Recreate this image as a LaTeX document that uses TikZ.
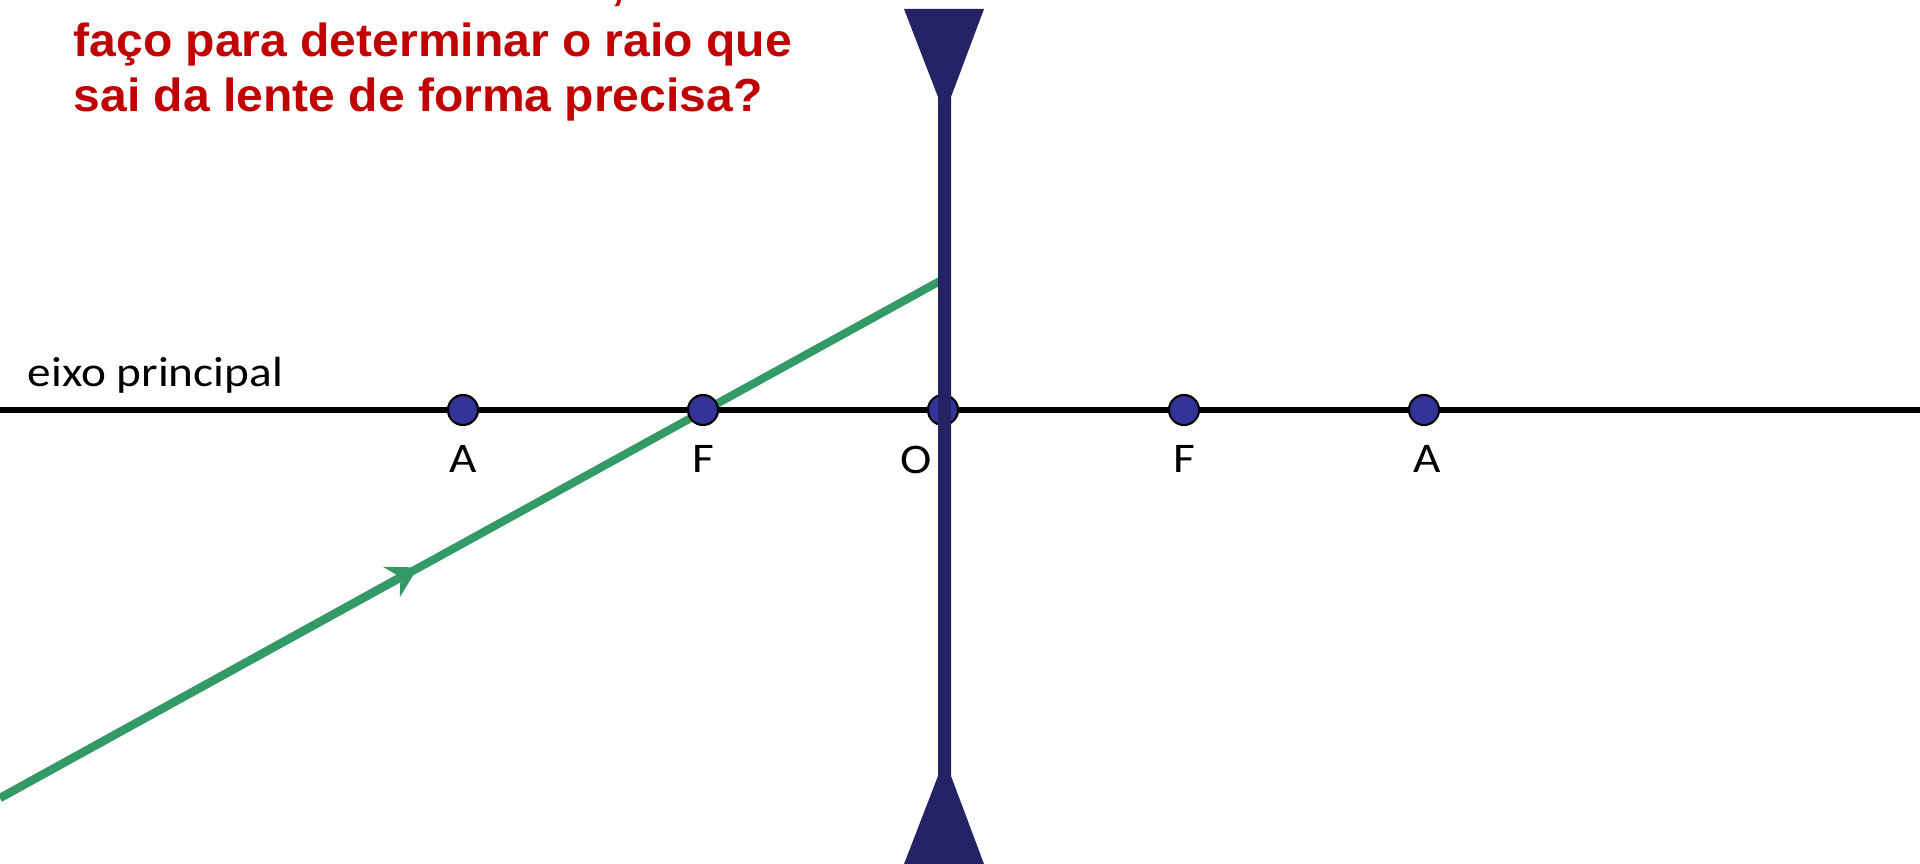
\documentclass[tikz,border=0pt]{standalone}
\usepackage{fontspec}
\setmainfont{Carlito}
\newfontfamily\rotfont[FakeStretch=1.12]{Carlito}
\newfontfamily\arialfont[FakeStretch=1.035]{Liberation Sans}
\usepackage{xcolor}
\usepackage{tikz}
\usetikzlibrary{positioning, arrows.meta}
\definecolor{lLente}{HTML}{232366}
\definecolor{lPonto}{HTML}{333399}
\definecolor{lRaio}{HTML}{339966}
\definecolor{lTexto}{HTML}{C00000}
\tikzset{
  eixo/.style={draw=black, line width=1.6pt},
  raio/.style={draw=lRaio, line width=2.3pt},
  ponto/.style={circle, draw=black, fill=lPonto, line width=0.6pt,
    minimum size=0.3cm, inner sep=0pt},
  rotulo/.style={font=\rotfont\fontsize{12}{14.4}\selectfont, inner sep=0pt},
  pergunta/.style={font=\arialfont\bfseries\fontsize{13.2}{15.65}\selectfont,
    text=lTexto, inner sep=0pt, align=left},
}

\begin{document}
\begin{tikzpicture}[x=0.01cm, y=-0.01cm]
        \clip (0,0) rectangle (1920,864);
        \fill[white] (0,0) rectangle (1920,864);
        % eixo principal
        \coordinate (eixoIni) at (0,410);
        \coordinate (eixoFim) at (1920,410);
        \draw[eixo] (eixoIni) -- (eixoFim);
        \node[rotulo, anchor=base west] (eixoTxt) at (27,387) {eixo principal};
        % raio incidente
        \coordinate (raioIni) at (0,798);
        \coordinate (raioSeta) at (418,567.4);
        \coordinate (raioFim) at (940,281);
        \draw[raio] (raioIni) -- (raioFim);
        \draw[raio, -{Stealth[length=0.3cm, width=0.34cm, inset=0.1cm]}] (raioIni) -- (raioSeta);
        % pontos
        \node[ponto] (pontoA1) at (463,410) {};
        \node[ponto] (pontoF1) at (703,410) {};
        \node[ponto] (pontoO) at (943,410) {};
        \node[ponto] (pontoF2) at (1184,410) {};
        \node[ponto] (pontoA2) at (1424,410) {};
        \node[rotulo, below=0.19cm of pontoA1] (rotA1) {A};
        \node[rotulo, below=0.19cm of pontoF1] (rotF1) {F};
        \node[rotulo, below=0.19cm of pontoO, xshift=-0.27cm] (rotO) {O};
        \node[rotulo, below=0.19cm of pontoF2] (rotF2) {F};
        \node[rotulo, below=0.19cm of pontoA2, xshift=0.03cm] (rotA2) {A};
        % lente divergente
        \fill[lLente] (904,9) -- (984,9) -- (951,97) -- (951,776) -- (984,864)
          -- (904,864) -- (938,776) -- (938,97) -- cycle;
        % texto
        \node[pergunta, anchor=base] (virgula) at (618,0) {,};
        \node[pergunta, anchor=north west] (perg) at (73,22)
          {faço para determinar o raio que\\sai da lente de forma precisa?};
      \end{tikzpicture}
\end{document}
